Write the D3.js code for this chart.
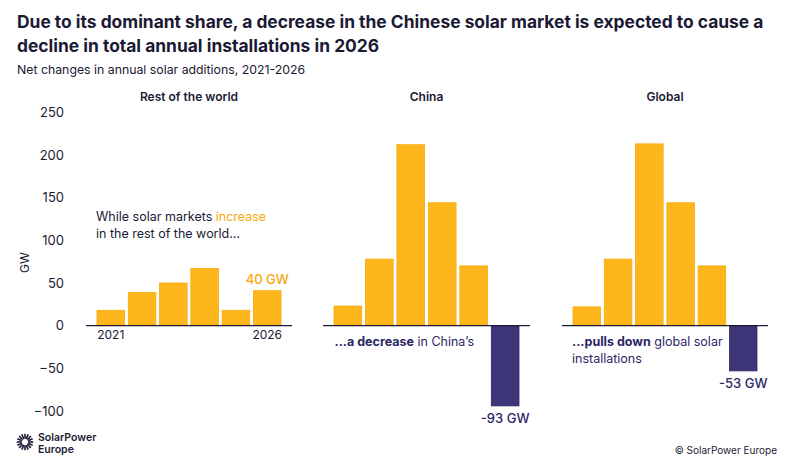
<!DOCTYPE html>
<html>
<head>
<meta charset="utf-8">
<script src="https://cdn.jsdelivr.net/npm/d3@7.9.0/dist/d3.min.js"></script>
<style>
  body { margin: 0; background: #fff; }
  svg { display: block; font-family: Inter, 'Noto Sans', sans-serif; }
</style>
</head>
<body>
<svg id="chart" width="800" height="467"></svg>
<script>
// ========== Data ==========
const years = ['2021', '2022', '2023', '2024', '2025', '2026'];
const panelTitles = ['Rest of the world', 'China', 'Global'];
const restOfWorld = [18, 39, 50, 67, 18, 41];
const china = [23, 78, 212, 144, 70, -94];
const globalChange = [22, 78, 213, 144, 70, -53];
const yTicks = [250, 200, 150, 100, 50, 0, -50, -100];
const endLabels = ['40 GW', '-93 GW', '-53 GW'];

const ORANGE = '#fdb71c';
const ORANGE_EDGE = '#f6a90a';
const PURPLE = '#3d3679';
const PURPLE_EDGE = '#2d2866';
const NAVY = '#1b1a35';
const INK = '#2b2766';

const svg = d3.select('#chart');

// ========== Titles ==========
svg.append('text').attr('x', 17).attr('y', 28)
  .attr('font-size', 17.4).attr('font-weight', 700).attr('fill', NAVY)
  .text('Due to its dominant share, a decrease in the Chinese solar market is expected to cause a');
svg.append('text').attr('x', 17).attr('y', 52)
  .attr('font-size', 17.4).attr('font-weight', 700).attr('fill', NAVY)
  .text('decline in total annual installations in 2026');
svg.append('text').attr('x', 17).attr('y', 74)
  .attr('font-size', 12.3).attr('fill', NAVY)
  .text('Net changes in annual solar additions, 2021-2026');

// ========== Y scale & axis ==========
const y = d3.scaleLinear().domain([-100, 250]).range([411, 112.3]);

const yAxis = svg.append('g').attr('transform', 'translate(64,0)')
  .call(d3.axisLeft(y).tickValues(yTicks).tickSize(0).tickPadding(0));
yAxis.select('.domain').remove();
yAxis.selectAll('text')
  .attr('font-family', 'Inter, sans-serif')
  .attr('font-size', 13).attr('fill', NAVY);

svg.append('text')
  .attr('transform', `translate(29,${y(75) + 1}) rotate(-90)`)
  .attr('text-anchor', 'middle').attr('font-size', 12).attr('fill', NAVY)
  .text('GW');

// ========== Panels ==========
const panelRanges = [[86, 292], [323, 530], [562, 768]];
const panelData = [restOfWorld, china, globalChange];

panelData.forEach((values, p) => {
  const [x0, x1] = panelRanges[p];
  const x = d3.scaleBand().domain(years).range([x0 + 11, x1 - 11]).paddingInner(0.12);
  const g = svg.append('g');

  g.append('text')
    .attr('x', (x0 + x1) / 2).attr('y', 101)
    .attr('text-anchor', 'middle').attr('font-size', 12).attr('font-weight', 600)
    .attr('fill', NAVY)
    .text(panelTitles[p]);

  g.selectAll('rect').data(values).join('rect')
    .attr('x', (d, i) => x(years[i]))
    .attr('width', x.bandwidth())
    .attr('y', d => y(Math.max(0, d)))
    .attr('height', d => Math.abs(y(d) - y(0)))
    .attr('fill', d => d < 0 ? PURPLE : ORANGE)
    .attr('stroke', d => d < 0 ? PURPLE_EDGE : ORANGE_EDGE)
    .attr('stroke-width', 0.8);

  g.append('line')
    .attr('x1', x0).attr('x2', x1)
    .attr('y1', y(0)).attr('y2', y(0))
    .attr('stroke', NAVY).attr('stroke-width', 1.3);

  // end-of-series label
  const last = values[values.length - 1];
  const lx = x(years[years.length - 1]) + x.bandwidth() / 2;
  g.append('text')
    .attr('x', lx)
    .attr('y', last < 0 ? y(last) + 17 : y(last) - 7)
    .attr('text-anchor', 'middle').attr('font-size', 13).attr('font-weight', 500)
    .attr('fill', last < 0 ? INK : '#f7a70d')
    .text(endLabels[p]);

  if (p === 0) {
    [years[0], years[years.length - 1]].forEach(yr => {
      g.append('text')
        .attr('x', x(yr) + x.bandwidth() / 2).attr('y', 339)
        .attr('text-anchor', 'middle').attr('font-size', 12).attr('fill', NAVY)
        .text(yr);
    });
  }
});

// ========== Annotations ==========
const ann1 = svg.append('text').attr('x', 96).attr('y', 221)
  .attr('font-size', 12.5).attr('fill', NAVY);
ann1.append('tspan').text('While solar markets ');
ann1.append('tspan').attr('fill', '#f7a70d').text('increase');
svg.append('text').attr('x', 96).attr('y', 238)
  .attr('font-size', 12.5).attr('fill', NAVY)
  .text('in the rest of the world...');

const ann2 = svg.append('text').attr('x', 334.5).attr('y', 346)
  .attr('font-size', 12.5).attr('fill', INK);
ann2.append('tspan').attr('font-weight', 700).text('...a decrease');
ann2.append('tspan').text(' in China\u2019s');

const ann3 = svg.append('text').attr('x', 572).attr('y', 346)
  .attr('font-size', 12.5).attr('fill', INK);
ann3.append('tspan').attr('font-weight', 700).text('...pulls down');
ann3.append('tspan').text(' global solar');
svg.append('text').attr('x', 572).attr('y', 362.5)
  .attr('font-size', 12.5).attr('fill', INK)
  .text('installations');

// ========== Footer ==========
const logo = svg.append('g').attr('transform', 'translate(25,442)');
d3.range(16).forEach(i => {
  const a = (i / 16) * 2 * Math.PI;
  logo.append('line')
    .attr('x1', Math.cos(a) * 3.2).attr('y1', Math.sin(a) * 3.2)
    .attr('x2', Math.cos(a) * 8.3).attr('y2', Math.sin(a) * 8.3)
    .attr('stroke', NAVY).attr('stroke-width', 1.6);
});
svg.append('text').attr('x', 38).attr('y', 440.5)
  .attr('font-size', 10.5).attr('font-weight', 600).attr('fill', NAVY)
  .text('SolarPower');
svg.append('text').attr('x', 38).attr('y', 453)
  .attr('font-size', 10.5).attr('font-weight', 600).attr('fill', NAVY)
  .text('Europe');

svg.append('text').attr('x', 777).attr('y', 453.5)
  .attr('text-anchor', 'end').attr('font-size', 10).attr('fill', NAVY)
  .text('\u00a9 SolarPower Europe');
</script>
</body>
</html>
